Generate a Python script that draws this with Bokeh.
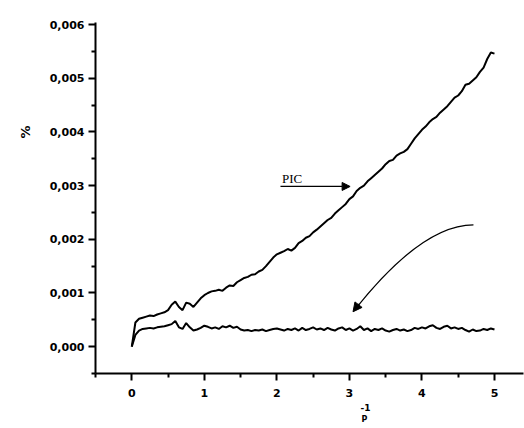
from bokeh.plotting import figure
from bokeh.models import (Range1d, FixedTicker, CustomJSTickFormatter, Label, Title,
                          Arrow, NormalHead, ColumnDataSource)
from bokeh.embed import file_html
from bokeh.resources import INLINE

# x positions (P^-1)
x_vals = [0.00, 0.05, 0.10, 0.15, 0.20, 0.25, 0.30, 0.35, 0.40, 0.45,
          0.50, 0.55, 0.60, 0.65, 0.70, 0.75, 0.80, 0.85, 0.90, 0.95,
          1.00, 1.05, 1.10, 1.15, 1.20, 1.25, 1.30, 1.35, 1.40, 1.45,
          1.50, 1.55, 1.60, 1.65, 1.70, 1.75, 1.80, 1.85, 1.90, 1.95,
          2.00, 2.05, 2.10, 2.15, 2.20, 2.25, 2.30, 2.35, 2.40, 2.45,
          2.50, 2.55, 2.60, 2.65, 2.70, 2.75, 2.80, 2.85, 2.90, 2.95,
          3.00, 3.05, 3.10, 3.15, 3.20, 3.25, 3.30, 3.35, 3.40, 3.45,
          3.50, 3.55, 3.60, 3.65, 3.70, 3.75, 3.80, 3.85, 3.90, 3.95,
          4.00, 4.05, 4.10, 4.15, 4.20, 4.25, 4.30, 4.35, 4.40, 4.45,
          4.50, 4.55, 4.60, 4.65, 4.70, 4.75, 4.80, 4.85, 4.90, 4.95,
          5.00]

# upper curve (PIC)
pic_vals = [0.00000, 0.00045, 0.00052, 0.00054, 0.00056, 0.00058, 0.00057, 0.00060, 0.00062, 0.00064,
            0.00068, 0.00078, 0.00084, 0.00074, 0.00068, 0.00082, 0.00080, 0.00074, 0.00082, 0.00090,
            0.00096, 0.00100, 0.00103, 0.00104, 0.00106, 0.00104, 0.00110, 0.00114, 0.00113, 0.00120,
            0.00124, 0.00128, 0.00130, 0.00134, 0.00135, 0.00140, 0.00143, 0.00150, 0.00158, 0.00166,
            0.00172, 0.00175, 0.00178, 0.00182, 0.00179, 0.00184, 0.00193, 0.00197, 0.00203, 0.00206,
            0.00213, 0.00218, 0.00224, 0.00230, 0.00236, 0.00240, 0.00248, 0.00254, 0.00260, 0.00266,
            0.00275, 0.00280, 0.00290, 0.00296, 0.00300, 0.00308, 0.00314, 0.00320, 0.00326, 0.00332,
            0.00340, 0.00346, 0.00348, 0.00356, 0.00360, 0.00363, 0.00368, 0.00378, 0.00388, 0.00396,
            0.00404, 0.00410, 0.00418, 0.00424, 0.00428, 0.00436, 0.00442, 0.00448, 0.00456, 0.00464,
            0.00468, 0.00476, 0.00488, 0.00490, 0.00496, 0.00502, 0.00512, 0.00520, 0.00536, 0.00548,
            0.00546]

# lower curve
low_vals = [0.00000, 0.00022, 0.00030, 0.00033, 0.00034, 0.00035, 0.00034, 0.00036, 0.00037, 0.00038,
            0.00040, 0.00042, 0.00048, 0.00036, 0.00033, 0.00044, 0.00036, 0.00030, 0.00032, 0.00035,
            0.00039, 0.00037, 0.00034, 0.00036, 0.00033, 0.00038, 0.00036, 0.00039, 0.00035, 0.00037,
            0.00032, 0.00030, 0.00031, 0.00029, 0.00031, 0.00030, 0.00032, 0.00029, 0.00031, 0.00033,
            0.00034, 0.00032, 0.00030, 0.00033, 0.00031, 0.00034, 0.00030, 0.00035, 0.00031, 0.00033,
            0.00036, 0.00032, 0.00034, 0.00031, 0.00035, 0.00032, 0.00030, 0.00034, 0.00036, 0.00031,
            0.00034, 0.00030, 0.00033, 0.00038, 0.00031, 0.00034, 0.00029, 0.00033, 0.00031, 0.00034,
            0.00030, 0.00028, 0.00031, 0.00033, 0.00030, 0.00032, 0.00029, 0.00031, 0.00035, 0.00033,
            0.00036, 0.00034, 0.00038, 0.00040, 0.00035, 0.00033, 0.00037, 0.00039, 0.00034, 0.00036,
            0.00033, 0.00035, 0.00031, 0.00028, 0.00032, 0.00029, 0.00030, 0.00033, 0.00031, 0.00034,
            0.00032]

x_ticks = [0, 1, 2, 3, 4, 5]
x_minor = [-0.5, 0.5, 1.5, 2.5, 3.5, 4.5]
y_ticks = [0.000, 0.001, 0.002, 0.003, 0.004, 0.005, 0.006]
y_minor = [-0.0005, 0.0005, 0.0015, 0.0025, 0.0035, 0.0045, 0.0055]

FONT = "DejaVu Sans"

p = figure(width=524, height=428, output_backend="svg", toolbar_location=None,
           x_range=Range1d(-0.5, 5.4), y_range=Range1d(-0.0005, 0.00604),
           min_border_left=95, min_border_right=1, min_border_top=22,
           min_border_bottom=55)
p.outline_line_color = None
p.xgrid.visible = False
p.ygrid.visible = False
p.background_fill_color = "white"

src = ColumnDataSource(dict(x=x_vals, pic=pic_vals, low=low_vals))
p.line("x", "pic", source=src, line_color="black", line_width=2)
p.line("x", "low", source=src, line_color="black", line_width=2)

for ax in (p.xaxis[0], p.yaxis[0]):
    ax.axis_line_width = 2
    ax.axis_line_color = "black"
    ax.major_tick_line_width = 2
    ax.minor_tick_line_width = 2
    ax.major_tick_in = 0
    ax.minor_tick_in = 0
    ax.major_tick_out = 7
    ax.minor_tick_out = 4
    ax.major_label_text_font = FONT
    ax.major_label_text_font_style = "bold"
    ax.major_label_text_font_size = "11px"
    ax.major_label_text_color = "black"

p.xaxis[0].ticker = FixedTicker(ticks=x_ticks, minor_ticks=x_minor)
p.yaxis[0].ticker = FixedTicker(ticks=y_ticks, minor_ticks=y_minor)
p.yaxis[0].formatter = CustomJSTickFormatter(code="return tick.toFixed(3).replace('.', ',');")
p.xaxis[0].formatter = CustomJSTickFormatter(code="return tick.toFixed(0);")
p.xaxis[0].major_label_standoff = 8
p.yaxis[0].major_label_standoff = 4

# axis labels as side titles (outside the frame)
p.add_layout(Title(text="%", align="left", offset=235, standoff=28,
                   text_font=FONT, text_font_style="bold", text_font_size="13px",
                   text_color="black"), "left")
p.add_layout(Title(text="-1", align="left", offset=265, standoff=4,
                   text_font=FONT, text_font_style="bold", text_font_size="9px",
                   text_color="black"), "below")
p.add_layout(Title(text="P", align="left", offset=266, standoff=1,
                   text_font=FONT, text_font_style="bold", text_font_size="8px",
                   text_color="black"), "below")

# PIC annotation
p.add_layout(Label(x=2.07, y=0.00313, text="PIC", text_align="left",
                   text_baseline="alphabetic", text_font="Liberation Serif",
                   text_font_size="13px", text_color="black"))
p.add_layout(Arrow(end=NormalHead(size=8, fill_color="black", line_color="black", line_width=1),
                   x_start=2.05, y_start=0.002985, x_end=3.01, y_end=0.002985,
                   line_width=1.3, line_color="black"))

# curved arrow
p.quadratic(x0=[4.71], y0=[0.00227], x1=[3.07], y1=[0.00068], cx=[4.0], cy=[0.00227],
            line_color="black", line_width=1.3)
p.add_layout(Arrow(end=NormalHead(size=9, fill_color="black", line_color="black", line_width=1),
                   x_start=3.134, y_start=0.000797, x_end=3.05, y_end=0.00065,
                   line_width=1.3, line_color="black"))

open("out.html", "w").write(file_html(p, INLINE))
